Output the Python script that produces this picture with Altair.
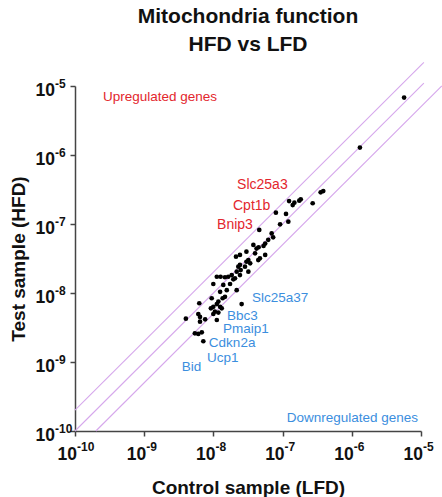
import altair as alt
import pandas as pd

# Relative expression per gene (2^-dCt), control (LFD) vs test (HFD)
control_lfd = [
    5.7e-6, 1.31e-6, 3.87e-7, 3.55e-7, 2.72e-7, 1.83e-7, 1.74e-7, 1.48e-7, 1.24e-7, 8.0e-8,
    1.12e-7, 1.21e-7, 9.2e-8, 4.6e-8, 6.95e-8, 7.3e-8, 6.2e-8, 5.6e-8, 5.3e-8, 4.5e-8,
    4.2e-8, 3.0e-8, 5.6e-8, 4.7e-8, 4.45e-8, 3.2e-8, 3.0e-8, 2.12e-8, 3.4e-8, 2.42e-8,
    2.29e-8, 2.86e-8, 2.48e-8, 2.17e-8, 3.2e-8, 1.84e-8, 1.64e-8, 1.47e-8, 2.05e-8, 1.94e-8,
    2.42e-8, 1.12e-8, 1.27e-8, 9.97e-9, 1.74e-8, 1.56e-8, 1.25e-8, 2.17e-8, 1.47e-8, 1.36e-8,
    9.45e-9, 1.18e-8, 1.12e-8, 6.25e-9, 9.97e-9, 9.2e-9, 1.25e-8, 1.32e-8, 1.18e-8, 1.05e-8,
    9.97e-9, 6.05e-9, 6.4e-9, 2.56e-8, 7.6e-9, 1.12e-8, 6.4e-9, 4.0e-9, 5.4e-9, 6.05e-9,
    6.8e-9, 7.15e-9, 1.39e-8, 3.78e-8, 4.0e-8, 2.42e-8, 1.4e-7,
]
test_hfd = [
    6.8e-6, 1.28e-6, 3.0e-7, 2.88e-7, 2.0e-7, 2.28e-7, 2.18e-7, 2.04e-7, 2.15e-7, 1.46e-7,
    1.40e-7, 1.08e-7, 9.9e-8, 8.2e-8, 7.3e-8, 6.4e-8, 5.9e-8, 5.2e-8, 4.8e-8, 4.6e-8,
    4.4e-8, 3.97e-8, 3.56e-8, 3.18e-8, 3.0e-8, 3.0e-8, 2.84e-8, 3.36e-8, 2.69e-8, 2.55e-8,
    2.41e-8, 2.41e-8, 2.15e-8, 2.04e-8, 2.04e-8, 1.82e-8, 1.72e-8, 1.69e-8, 1.63e-8, 1.58e-8,
    1.82e-8, 1.72e-8, 1.72e-8, 1.35e-8, 1.35e-8, 1.10e-8, 1.04e-8, 1.10e-8, 8.8e-9, 8.4e-9,
    8.4e-9, 7.5e-9, 6.9e-9, 7.1e-9, 6.3e-9, 6.0e-9, 6.3e-9, 6.0e-9, 5.2e-9, 5.36e-9,
    4.96e-9, 4.96e-9, 4.5e-9, 6.9e-9, 4.15e-9, 4.06e-9, 3.84e-9, 4.25e-9, 2.6e-9, 2.55e-9,
    2.69e-9, 2.0e-9, 1.31e-8, 4.97e-8, 3.76e-8, 3.56e-8, 1.88e-7,
]
assert len(control_lfd) == len(test_hfd)

# Axis ticks: powers of ten, written as base 10 with a raised exponent
tick_values = [1e-10, 1e-9, 1e-8, 1e-7, 1e-6, 1e-5]
tick_exponents = ["-10", "-9", "-8", "-7", "-6", "-5"]

# Fold-regulation boundaries (test = fold * control)
fold_levels = [2, 1, 0.5]
fold_start = [1e-10, 1e-10, 2e-10]
fold_end = [1.1e-5, 1.1e-5, 2e-5]

# Gene annotations
up_genes = ["Slc25a3", "Cpt1b", "Bnip3"]
up_x = [2.2e-8, 1.92e-8, 1.13e-8]
up_y = [3.7e-7, 1.82e-7, 9.7e-8]
down_genes = ["Slc25a37", "Bbc3", "Pmaip1", "Cdkn2a", "Ucp1", "Bid"]
down_x = [3.6e-8, 1.57e-8, 1.38e-8, 8.6e-9, 8.1e-9, 3.5e-9]
down_y = [8.5e-9, 4.6e-9, 3.05e-9, 1.9e-9, 1.15e-9, 8.6e-10]

# Region captions
region_labels = ["Upregulated genes", "Downregulated genes"]
region_x = [2.54e-10, 9.06e-6]
region_y = [6.9e-6, 1.54e-10]

W, H = 346, 345
RED = "#e3262d"
BLUE = "#3b8ede"
FONT = "Liberation Sans"
INK = "#111"

points = pd.DataFrame({"control": control_lfd, "test": test_hfd})

fold_rows = []
for f, a, b in zip(fold_levels, fold_start, fold_end):
    fold_rows.append({"fold": f, "control": a, "test": a * f})
    fold_rows.append({"fold": f, "control": b, "test": b * f})
fold_df = pd.DataFrame(fold_rows)

ticks = pd.DataFrame({
    "value": tick_values,
    "base": ["10"] * len(tick_values),
    "exp": tick_exponents,
})

axis_style = dict(
    values=tick_values, labels=False, grid=False,
    tickSize=5, tickWidth=1.5, tickColor="#444",
    domainColor="#444", domainWidth=1.5,
    titleFont=FONT, titleFontSize=19, titleFontWeight="bold", titleColor=INK,
)

x_enc = alt.X(
    "control:Q",
    scale=alt.Scale(type="log", domain=[1e-10, 1e-5]),
    axis=alt.Axis(title="Control sample (LFD)", titlePadding=42, **axis_style),
)
y_enc = alt.Y(
    "test:Q",
    scale=alt.Scale(type="log", domain=[1e-10, 1e-5]),
    axis=alt.Axis(title="Test sample (HFD)", titlePadding=41, **axis_style),
)

fold_lines = alt.Chart(fold_df).mark_line(
    color="#d6a8ec", strokeWidth=1.1, clip=False
).encode(x=x_enc, y=y_enc, detail="fold:N")

dots = alt.Chart(points).mark_circle(size=22, color="#000", opacity=1).encode(
    x="control:Q", y="test:Q"
)

# Tick labels: "10" plus a smaller superscript exponent
base_style = dict(font=FONT, fontSize=17.5, fontWeight="bold", color=INK, baseline="middle")
exp_style = dict(font=FONT, fontSize=12, fontWeight="bold", color=INK, baseline="middle")

x_base = alt.Chart(ticks).mark_text(align="right", dx=2, **base_style).encode(
    x="value:Q", y=alt.value(H + 24), text="base:N"
)
x_exp = alt.Chart(ticks).mark_text(align="left", dx=2, **exp_style).encode(
    x="value:Q", y=alt.value(H + 16), text="exp:N"
)
y_base = alt.Chart(ticks).mark_text(align="right", dy=5, **base_style).encode(
    x=alt.value(-20), y="value:Q", text="base:N"
)
y_exp = alt.Chart(ticks).mark_text(align="left", dy=-2, **exp_style).encode(
    x=alt.value(-20), y="value:Q", text="exp:N"
)

up_df = pd.DataFrame({"gene": up_genes, "control": up_x, "test": up_y})
down_df = pd.DataFrame({"gene": down_genes, "control": down_x, "test": down_y})

up_text = alt.Chart(up_df).mark_text(
    align="left", baseline="middle", font=FONT, fontSize=14, color=RED
).encode(x="control:Q", y="test:Q", text="gene:N")
down_text = alt.Chart(down_df).mark_text(
    align="left", baseline="middle", font=FONT, fontSize=13.5, color=BLUE
).encode(x="control:Q", y="test:Q", text="gene:N")

region_df = pd.DataFrame({"label": region_labels, "control": region_x, "test": region_y})
up_region = alt.Chart(region_df.iloc[[0]]).mark_text(
    align="left", baseline="middle", font=FONT, fontSize=13.5, color=RED
).encode(x="control:Q", y="test:Q", text="label:N")
down_region = alt.Chart(region_df.iloc[[1]]).mark_text(
    align="right", baseline="middle", font=FONT, fontSize=13.5, color=BLUE
).encode(x="control:Q", y="test:Q", text="label:N")

chart = alt.layer(
    fold_lines, dots, x_base, x_exp, y_base, y_exp,
    up_text, down_text, up_region, down_region,
).properties(
    width=W,
    height=H,
    autosize=alt.AutoSizeParams(type="none"),
    padding={"left": 75, "top": 86, "right": 21, "bottom": 66},
    title=alt.TitleParams(
        text=["Mitochondria function", "HFD vs LFD"],
        font=FONT, fontSize=21, fontWeight="bold", color=INK,
        anchor="middle", frame="group", lineHeight=28, offset=5,
    ),
).configure_view(stroke=None)

chart.save("out.html", embed_options={"renderer": "svg", "actions": False})
